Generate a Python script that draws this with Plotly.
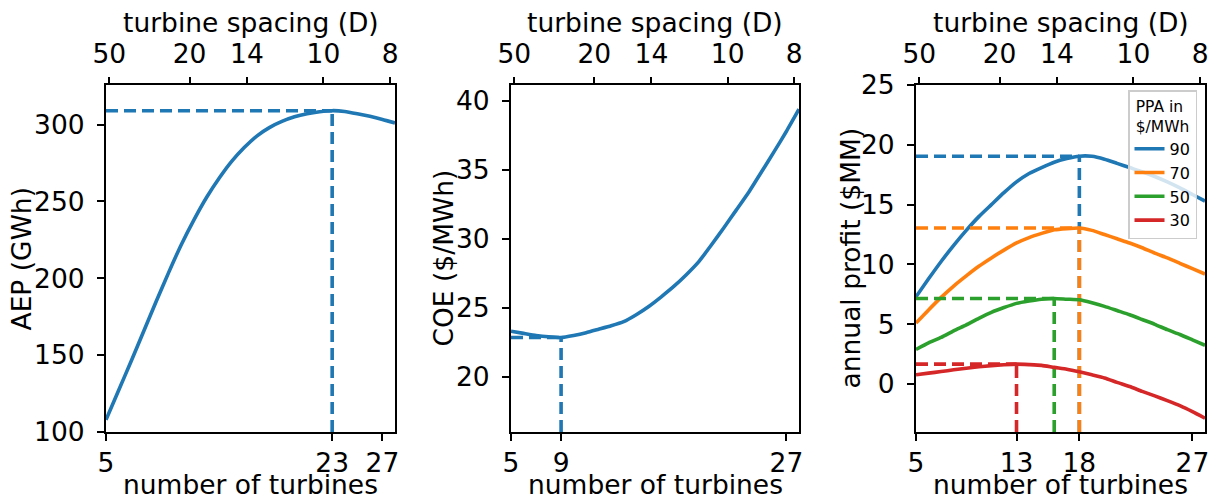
import plotly.graph_objects as go

# ---------------- data ----------------
TURBINES = list(range(5, 29))

AEP_GWH = [108, 127, 146, 165.5, 185, 204, 222, 238, 252.5, 265, 276, 285,
           292.5, 298, 302, 305, 307, 308.3, 309, 308.5, 307, 305.3, 303.3, 301]

COE_USD_MWH = [23.3, 23.15, 23.0, 22.9, 22.85, 23.0, 23.2, 23.45, 23.7, 24.0,
               24.5, 25.1, 25.8, 26.55, 27.4, 28.35, 29.55, 30.8, 32.1, 33.4,
               34.85, 36.3, 37.8, 39.4]

PPA_LEVELS = [90, 70, 50, 30]
PROFIT_PPA90 = [7.3, 8.8, 10.25, 11.6, 12.85, 14.0, 15.0, 16.0, 16.9, 17.6, 18.1,
                18.55, 18.85, 19.05, 19.04, 18.8, 18.45, 18.1, 17.75, 17.35,
                16.9, 16.4, 15.85, 15.3]
PROFIT_PPA70 = [5.1, 6.2, 7.25, 8.2, 9.05, 9.85, 10.55, 11.2, 11.8, 12.25, 12.6,
                12.9, 13.0, 13.05, 12.85, 12.5, 12.15, 11.8, 11.4, 10.95, 10.55,
                10.1, 9.65, 9.2]
PROFIT_PPA50 = [2.9, 3.45, 3.9, 4.45, 4.95, 5.5, 6.0, 6.4, 6.75, 6.95, 7.1, 7.16,
                7.1, 7.05, 6.8, 6.5, 6.15, 5.8, 5.4, 5.0, 4.55, 4.15, 3.7, 3.25]
PROFIT_PPA30 = [0.78, 0.92, 1.05, 1.2, 1.33, 1.45, 1.55, 1.62, 1.67, 1.63, 1.57,
                1.4, 1.25, 1.03, 0.78, 0.52, 0.15, -0.2, -0.6, -0.98, -1.38,
                -1.8, -2.3, -2.85]
PROFITS = [PROFIT_PPA90, PROFIT_PPA70, PROFIT_PPA50, PROFIT_PPA30]

AEP_XTICKS = [5, 23, 27]
COE_XTICKS = [5, 9, 27]
PROFIT_XTICKS = [5, 13, 18, 27]
AEP_YTICKS = [100, 150, 200, 250, 300]
COE_YTICKS = [20, 25, 30, 35, 40]
PROFIT_YTICKS = [0, 5, 10, 15, 20, 25]
SPACING_TICKS = [50, 20, 14, 10, 8]
ROW_LENGTH_D = 213  # turbines = 1 + row length / spacing


def spacing_to_turbines(s):
    return 1 + ROW_LENGTH_D / s


# ---------------- style ----------------
W, H = 1214, 501
FONT = "DejaVu Sans"
FS = 26.5
BLUE, ORANGE, GREEN, RED = "#1f77b4", "#ff7f0e", "#2ca02c", "#d62728"
COLORS = [BLUE, ORANGE, GREEN, RED]
DASH = "12px,6px"
LW = 3.6
CURVE = dict(shape="spline", smoothing=0.5)

XRANGE = [5, 28]
AEP_RANGE = [100, 325.7]
COE_RANGE = [16, 41.15]
PROFIT_RANGE = [-4, 25]

PANEL_X = [(106, 395), (511, 799), (916, 1205)]
PANEL_Y = (85, 432)


def fx(p):
    return p / W


def fy(p):
    return 1 - p / H


fig = go.Figure()


def add_opt(xa, ya, ymin, xs, ys, color, maximize=True):
    vals = list(ys)
    idx = vals.index(max(vals)) if maximize else vals.index(min(vals))
    nopt, vopt = xs[idx], vals[idx]
    fig.add_trace(go.Scatter(x=[XRANGE[0], nopt], y=[vopt, vopt], mode="lines",
                             line=dict(color=color, width=LW, dash=DASH),
                             xaxis=xa, yaxis=ya, showlegend=False, hoverinfo="skip"))
    fig.add_trace(go.Scatter(x=[nopt, nopt], y=[ymin, vopt], mode="lines",
                             line=dict(color=color, width=LW, dash=DASH),
                             xaxis=xa, yaxis=ya, showlegend=False, hoverinfo="skip"))


# panel 1: AEP
fig.add_trace(go.Scatter(x=TURBINES, y=AEP_GWH, mode="lines",
                         line=dict(color=BLUE, width=LW, **CURVE),
                         xaxis="x", yaxis="y", showlegend=False))
add_opt("x", "y", AEP_RANGE[0], TURBINES, AEP_GWH, BLUE, True)

# panel 2: COE
fig.add_trace(go.Scatter(x=TURBINES, y=COE_USD_MWH, mode="lines",
                         line=dict(color=BLUE, width=LW, **CURVE),
                         xaxis="x2", yaxis="y2", showlegend=False))
add_opt("x2", "y2", COE_RANGE[0], TURBINES, COE_USD_MWH, BLUE, False)

# panel 3: profit
for ppa, prof, col in zip(PPA_LEVELS, PROFITS, COLORS):
    fig.add_trace(go.Scatter(x=TURBINES, y=prof, mode="lines", name=str(ppa),
                             line=dict(color=col, width=LW, **CURVE),
                             xaxis="x3", yaxis="y3", showlegend=True))
    add_opt("x3", "y3", PROFIT_RANGE[0], TURBINES, prof, col, True)

tickfont = dict(family=FONT, size=FS, color="black")
common_axis = dict(showgrid=False, zeroline=False, showline=True, linecolor="black",
                   linewidth=2, mirror=True, ticks="outside", ticklen=7,
                   tickwidth=2, tickcolor="black", tickfont=tickfont)

layout = dict(
    width=W, height=H,
    margin=dict(l=0, r=0, t=0, b=0, autoexpand=False),
    paper_bgcolor="white", plot_bgcolor="white",
    font=dict(family=FONT, color="black"),
    showlegend=True,
    legend=dict(
        x=fx(1197), y=fy(90), xanchor="right", yanchor="top",
        bgcolor="rgba(255,255,255,0.8)", bordercolor="#cccccc", borderwidth=1.5,
        font=dict(family=FONT, size=16, color="black"),
        title=dict(text="PPA in<br>$/MWh", side="top center",
                   font=dict(family=FONT, size=15.5, color="black")),
        itemwidth=30,
    ),
)

panels = [
    ("x", "y", AEP_XTICKS, AEP_YTICKS, AEP_RANGE),
    ("x2", "y2", COE_XTICKS, COE_YTICKS, COE_RANGE),
    ("x3", "y3", PROFIT_XTICKS, PROFIT_YTICKS, PROFIT_RANGE),
]
spacing_pos = [spacing_to_turbines(s) for s in SPACING_TICKS]
for i, (xa, ya, xt, yt, yr) in enumerate(panels):
    xname = "xaxis" if i == 0 else f"xaxis{i + 1}"
    yname = "yaxis" if i == 0 else f"yaxis{i + 1}"
    x0, x1 = PANEL_X[i]
    layout[xname] = dict(common_axis, domain=[fx(x0), fx(x1)], range=XRANGE,
                         anchor=ya, tickvals=xt, ticktext=[str(v) for v in xt],
                         ticklabelstandoff=-1)
    layout[yname] = dict(common_axis, domain=[fy(PANEL_Y[1]), fy(PANEL_Y[0])],
                         range=yr, anchor=xa, tickvals=yt,
                         ticktext=[str(v) for v in yt], ticklabelstandoff=7)
    # top axis (turbine spacing)
    tname = f"xaxis{i + 4}"
    layout[tname] = dict(showgrid=False, zeroline=False, showline=False,
                         overlaying=xa, side="top", anchor=ya, range=XRANGE,
                         ticks="outside", ticklen=7, tickwidth=2, tickcolor="black",
                         tickfont=tickfont, tickvals=spacing_pos,
                         ticktext=[str(s) for s in SPACING_TICKS],
                         ticklabelstandoff=3)
    # invisible carrier so the top axis is drawn
    fig.add_trace(go.Scatter(x=spacing_pos, y=[yr[0]] * len(spacing_pos),
                             mode="none", xaxis=f"x{i + 4}", yaxis=ya,
                             showlegend=False, hoverinfo="skip"))

annotations = []
ylabels = ["AEP (GWh)", "COE ($/MWh)", "annual profit ($MM)"]
ylabel_x = [21, 443, 850]
ymid = (PANEL_Y[0] + PANEL_Y[1]) / 2
for i in range(3):
    x0, x1 = PANEL_X[i]
    cx = (x0 + x1) / 2
    annotations.append(dict(text="turbine spacing (D)", x=fx(cx), y=fy(23),
                            xref="paper", yref="paper", showarrow=False,
                            xanchor="center", yanchor="middle",
                            font=dict(family=FONT, size=FS, color="black")))
    annotations.append(dict(text="number of turbines", x=fx(cx), y=fy(484),
                            xref="paper", yref="paper", showarrow=False,
                            xanchor="center", yanchor="middle",
                            font=dict(family=FONT, size=FS, color="black")))
    annotations.append(dict(text=ylabels[i], x=fx(ylabel_x[i]), y=fy(ymid),
                            xref="paper", yref="paper", showarrow=False,
                            textangle=-90, xanchor="center", yanchor="middle",
                            font=dict(family=FONT, size=FS, color="black")))
layout["annotations"] = annotations

fig.update_layout(**layout)
fig.write_html("out.html", config={"displayModeBar": False},
               post_script="document.body.style.margin='0';")
